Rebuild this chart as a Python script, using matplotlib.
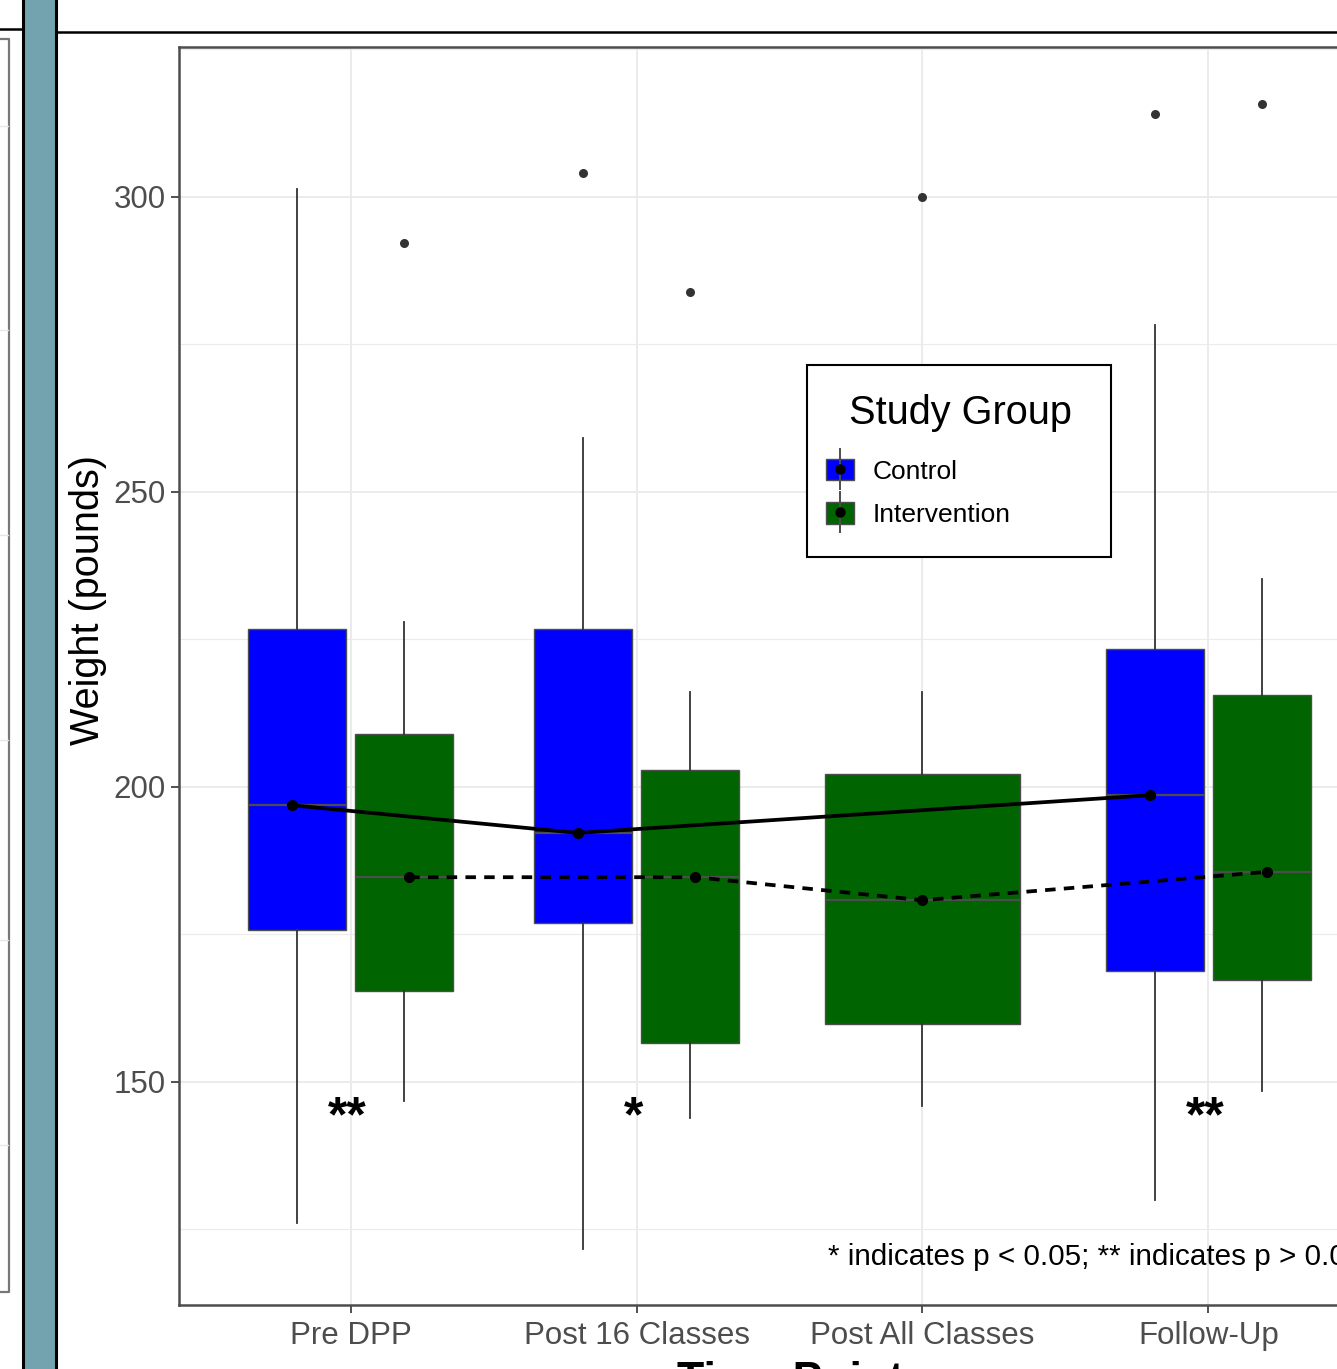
import matplotlib
matplotlib.use("Agg")
import matplotlib.pyplot as plt
from matplotlib.patches import Patch, Rectangle
from matplotlib.lines import Line2D
from matplotlib.legend_handler import HandlerTuple

# weight (pounds) by time point and study group
time_points = ["Pre DPP", "Post 16 Classes", "Post All Classes", "Follow-Up"]

# control group has no measurements at "Post All Classes"
ctrl_idx = [0, 1, 3]
ctrl_whislo = [126.1, 121.7, 130.0]
ctrl_q1 = [175.8, 177.0, 168.8]
ctrl_med = [196.9, 192.2, 198.6]
ctrl_q3 = [226.8, 226.8, 223.4]
ctrl_whishi = [301.3, 259.2, 278.3]
ctrl_fliers = [[], [304.1], [314.1]]

int_idx = [0, 1, 2, 3]
int_whislo = [146.8, 143.9, 145.9, 148.5]
int_q1 = [165.4, 156.6, 159.8, 167.3]
int_med = [184.7, 184.7, 180.8, 185.6]
int_q3 = [209.0, 202.9, 202.2, 215.6]
int_whishi = [228.0, 216.1, 216.1, 235.3]
int_fliers = [[292.2], [283.9], [300.0], [315.8]]

# significance marks
star_idx = [0, 1, 3]
star_text = ["**", "*", "**"]
star_y = 141.6
note = "* indicates p < 0.05; ** indicates p > 0.05"

W, H = 1337, 1369
BLUE = "#0000ff"
GREEN = "#006400"
TEAL = "#74a3b0"
plt.rcParams["font.family"] = ["Liberation Sans", "DejaVu Sans"]


def fx(px):
    return px / W


def fy(py):
    return 1 - py / H


def stats(whislo, q1, med, q3, whishi, fliers):
    return [dict(whislo=a, q1=b, med=c, q3=d, whishi=e, fliers=f)
            for a, b, c, d, e, f in zip(whislo, q1, med, q3, whishi, fliers)]


fig = plt.figure(figsize=(W / 100, H / 100), dpi=100)
fig.patch.set_facecolor("white")

# ---- poster furniture around the panel ----
fig.add_artist(Rectangle((fx(22), 0), fx(35), 1, transform=fig.transFigure,
                         facecolor=TEAL, edgecolor="none"))
for xx in (23, 56):
    fig.add_artist(Line2D([fx(xx)] * 2, [0, 1], transform=fig.transFigure,
                          color="black", lw=2.2))
fig.add_artist(Line2D([fx(56), 1], [fy(32)] * 2, transform=fig.transFigure,
                      color="black", lw=1.8))
fig.add_artist(Line2D([0, fx(22)], [fy(29)] * 2, transform=fig.transFigure,
                      color="black", lw=1.8))
fig.add_artist(Line2D([0, fx(9), fx(9), 0], [fy(39), fy(39), fy(1292), fy(1292)],
                      transform=fig.transFigure, color="#777777", lw=1.6))
for gy in (126, 330, 535, 740, 940, 1145):
    fig.add_artist(Line2D([0, fx(8)], [fy(gy)] * 2, transform=fig.transFigure,
                          color="#e6e6e6", lw=1.0))

# ---- main panel ----
ax = fig.add_axes([fx(179), fy(1305), fx(1380 - 179), (1305 - 47) / H])
ax.set_xlim(0.4, 4.6)
ax.set_ylim(112.2, 325.4)

box_style = dict(patch_artist=True, showcaps=False, manage_ticks=False,
                 boxprops=dict(edgecolor="#4d4d4d", linewidth=1.0),
                 medianprops=dict(color="#4d4d4d", linewidth=1.6),
                 whiskerprops=dict(color="#333333", linewidth=1.3),
                 flierprops=dict(marker="o", markersize=6.5, markerfacecolor="#333333",
                                 markeredgecolor="none"))

ctrl_pos = [i + 1 - 0.187 for i in ctrl_idx]
int_pos = [i + 1 + 0.187 if i in ctrl_idx else i + 1 for i in int_idx]
int_w = [0.34 if i in ctrl_idx else 0.68 for i in int_idx]

bc = ax.bxp(stats(ctrl_whislo, ctrl_q1, ctrl_med, ctrl_q3, ctrl_whishi, ctrl_fliers),
            positions=ctrl_pos, widths=0.34, **box_style)
bi = ax.bxp(stats(int_whislo, int_q1, int_med, int_q3, int_whishi, int_fliers),
            positions=int_pos, widths=int_w, **box_style)
for b in bc["boxes"]:
    b.set_facecolor(BLUE)
for b in bi["boxes"]:
    b.set_facecolor(GREEN)

# group summary lines through the box centres
ctrl_lx = [i + 1 - 0.205 for i in ctrl_idx]
int_lx = [i + 1 + 0.205 if i in ctrl_idx else i + 1 for i in int_idx]
ax.plot(ctrl_lx, ctrl_med, color="black", lw=2.7, marker="o", markersize=7, zorder=5)
ax.plot(int_lx, int_med, color="black", lw=2.7, ls=(0, (2.8, 2.2)), marker="o",
        markersize=7, zorder=5)

for i, s in zip(star_idx, star_text):
    ax.text(i + 1 - 0.01, star_y, s, ha="center", va="baseline", fontsize=36,
            fontweight="bold", color="black", zorder=6)
ax.text(2.671, 119.0, note, ha="left", va="baseline", fontsize=21.3, color="black",
        clip_on=False, zorder=6)

ax.set_xticks(range(1, len(time_points) + 1))
ax.set_xticklabels(time_points)
ax.set_yticks([150, 200, 250, 300])
ax.set_yticks([125, 175, 225, 275, 325], minor=True)
ax.grid(True, which="major", color="#ebebeb", lw=1.4)
ax.grid(True, which="minor", axis="y", color="#ebebeb", lw=0.8)
ax.set_axisbelow(True)
ax.tick_params(axis="both", which="major", length=5.5, width=1.2, color="#333333",
               labelcolor="#4d4d4d", labelsize=22.5)
ax.tick_params(axis="y", which="minor", length=0)
ax.tick_params(axis="y", pad=4)
ax.tick_params(axis="x", pad=6)
for sp in ax.spines.values():
    sp.set_color("#4d4d4d")
    sp.set_linewidth(1.8)

fig.text(fx(88), fy(600), "Weight (pounds)", rotation=90, ha="center", va="center",
         fontsize=28.5, color="black")
fig.text(fx(790), fy(1361), "Time Point", ha="center", va="top", fontsize=32,
         fontweight="bold", color="black")

# ---- legend ----
fig.add_artist(Rectangle((fx(807), fy(557)), fx(1111 - 807), (557 - 365) / H,
                         transform=fig.transFigure, facecolor="white",
                         edgecolor="black", lw=1.5, zorder=8))
fig.text(fx(960), fy(413), "Study Group", ha="center", va="center", fontsize=28.6,
         color="black", zorder=9)
whisk = Line2D([], [], marker="|", markersize=30, markeredgewidth=1.4,
               color="#4d4d4d", linestyle="None")
dot = Line2D([], [], marker="o", markersize=6.5, color="black", linestyle="None")
handles = [(Patch(facecolor=BLUE, edgecolor="#4d4d4d"), whisk, dot),
           (Patch(facecolor=GREEN, edgecolor="#4d4d4d"), whisk, dot)]
leg = fig.legend(handles, ["Control", "Intervention"],
                 handler_map={tuple: HandlerTuple(ndivide=1, pad=0)},
                 loc="upper left", bbox_to_anchor=(fx(826), fy(459)),
                 frameon=False, borderpad=0, borderaxespad=0, fontsize=19,
                 handlelength=1.06, handleheight=0.87, handletextpad=0.72,
                 labelspacing=0.7)
leg.set_zorder(10)

fig.savefig("out.png", dpi=100)
